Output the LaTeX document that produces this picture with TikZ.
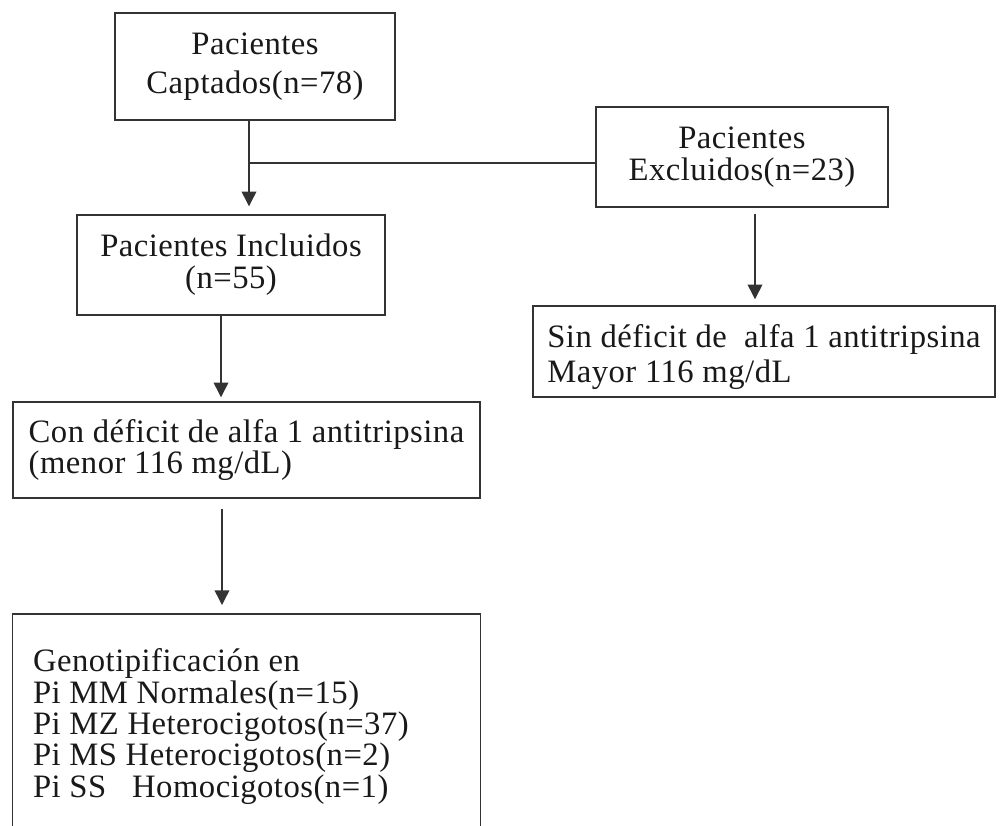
\documentclass[tikz,border=0pt]{standalone}
\usepackage{fontspec}
\setmainfont{Liberation Serif}[LetterSpace=1.5]
\usetikzlibrary{arrows.meta,calc}
\begin{document}
\begin{tikzpicture}[x=0.75pt,y=-0.75pt,
  txt/.style={font=\fontsize{24.5}{23.5}\selectfont, text=black!90},
  box/.style={txt, draw=black!80, line width=1.1pt, inner sep=0pt},
  ln/.style={draw=black!80, line width=1.1pt},
  arr/.style={ln, -{Triangle[width=11pt,length=11pt]}}]
\useasboundingbox[fill=white] (0,0) rectangle (1003,825);

\node[box, minimum width=210pt, minimum height=80.25pt, align=center,
      font=\fontsize{24.5}{29}\selectfont] (top) at (255,66.5) {Pacientes\\Captados(n=78)};
\node[box, minimum width=219pt, minimum height=75pt, align=center, font=\fontsize{24.5}{24}\selectfont] (excl) at (742,157) {Pacientes\\Excluidos(n=23)};
\node[box, minimum width=231pt, minimum height=75pt, align=center, font=\fontsize{24.5}{24}\selectfont] (incl) at (231,265) {Pacientes Incluidos\\(n=55)};
\node[box, minimum width=346.5pt, minimum height=68.25pt, align=left,
      font=\fontsize{24.5}{26}\selectfont] (sin) at (764,351.5) {\rule{0pt}{26pt}Sin déficit de\ \ alfa 1 antitripsina\\Mayor 116 mg/dL};
\node[box, minimum width=350.25pt, minimum height=72pt, align=left] (con) at (246.5,450) {Con déficit de alfa 1 antitripsina\\(menor 116 mg/dL)};
\node[txt, anchor=north, inner sep=0pt] (geno) at (246.5,614)
  {\parbox[c][170pt][t]{350.25pt}{\leftskip=15pt\vspace*{26pt}Genotipificación en\\
   Pi MM Normales(n=15)\\
   Pi MZ Heterocigotos(n=37)\\
   Pi MS Heterocigotos(n=2)\\
   Pi SS\ \ \ Homocigotos(n=1)}};
\draw[ln] (geno.south west) -- (geno.north west) -- (geno.north east) -- (geno.south east);

\coordinate (t1) at ($(top.south)+(-6,0)$);
\coordinate (j) at (249,163);
\draw[arr, shorten >=6pt] (t1) -- (t1 |- incl.north);
\draw[ln] (j) -- (j -| excl.west);

\coordinate (e1) at ($(excl.south)+(13,0)$);
\draw[arr, shorten <=4.5pt, shorten >=4.5pt] (e1) -- (e1 |- sin.north);

\coordinate (i1) at ($(incl.south)+(-10,0)$);
\draw[arr, shorten >=3pt] (i1) -- (i1 |- con.north);

\coordinate (c1) at ($(con.south)+(-24.5,0)$);
\draw[arr, shorten <=7.5pt, shorten >=6.75pt] (c1) -- (c1 |- geno.north);
\end{tikzpicture}
\end{document}
